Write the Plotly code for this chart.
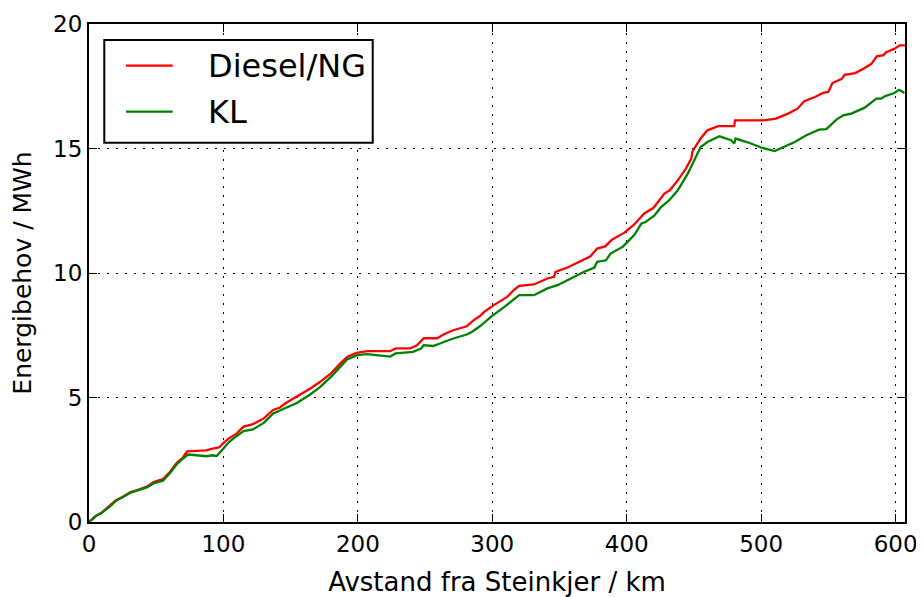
import plotly.graph_objects as go

# ---- data ----
series_names = ["Diesel/NG", "KL"]

diesel_x = [0, 5, 9, 15, 20, 25, 31, 37, 43, 48, 55, 60, 65, 70, 73, 80, 87, 92, 97, 100,
            104, 110, 115, 122, 130, 137, 142, 147, 155, 160, 165, 172, 180, 187, 192, 199,
            207, 224, 228, 239, 244, 249, 259, 264, 271, 281, 286, 291, 294, 300, 305, 311,
            316, 320, 331, 341, 346, 347, 356, 366, 373, 378, 384, 389, 398, 405, 413, 420,
            423, 428, 432, 438, 444, 448, 449, 455, 460, 468, 480, 480.5, 502, 511, 520, 527,
            532, 540, 546, 550, 553, 560, 562, 570, 576, 582, 586, 591, 593, 599, 603, 607]
diesel_y = [0, 0.24, 0.36, 0.62, 0.87, 1.0, 1.2, 1.3, 1.42, 1.6, 1.72, 2.0, 2.36, 2.6, 2.84,
            2.86, 2.88, 2.95, 3.0, 3.17, 3.36, 3.56, 3.83, 3.93, 4.16, 4.5, 4.6, 4.8, 5.06, 5.2,
            5.37, 5.63, 5.97, 6.37, 6.63, 6.79, 6.86, 6.86, 6.97, 6.97, 7.10, 7.38, 7.38, 7.54,
            7.70, 7.86, 8.1, 8.28, 8.44, 8.67, 8.85, 9.04, 9.31, 9.48, 9.54, 9.78, 9.85, 10.04,
            10.22, 10.49, 10.67, 10.98, 11.07, 11.34, 11.61, 11.92, 12.39, 12.62, 12.85, 13.19,
            13.32, 13.72, 14.19, 14.59, 14.9, 15.4, 15.73, 15.9, 15.9, 16.13, 16.13, 16.2, 16.4,
            16.6, 16.9, 17.07, 17.23, 17.27, 17.63, 17.8, 17.96, 18.03, 18.2, 18.4, 18.7, 18.75,
            18.87, 19.0, 19.14, 19.14]

kl_x = [0, 5, 9, 15, 20, 25, 31, 37, 43, 48, 55, 60, 65, 70, 73.5, 80, 87, 92, 95, 100, 104,
        107.5, 115, 122, 130, 137, 147, 155, 165, 172, 180, 187, 192, 199.5, 207, 224, 228,
        241, 247, 249, 256, 264, 271, 281, 285, 291, 299, 309, 320, 331, 341, 348.5, 358, 368,
        376, 378, 384.5, 388, 397, 405.6, 411, 414, 420.5, 425.5, 431.6, 438, 445.4, 450.4,
        455, 460, 469, 477.7, 480, 481, 490, 500, 510, 525, 533.6, 543, 548.5, 556, 561, 567,
        577, 585.7, 589.4, 591.6, 599, 602.6, 606.6]
kl_y = [0, 0.24, 0.35, 0.6, 0.85, 1.0, 1.18, 1.28, 1.39, 1.55, 1.66, 1.95, 2.30, 2.55, 2.71,
        2.68, 2.64, 2.68, 2.65, 2.95, 3.2, 3.36, 3.65, 3.72, 3.98, 4.36, 4.60, 4.79, 5.14, 5.43,
        5.83, 6.23, 6.53, 6.70, 6.74, 6.64, 6.77, 6.83, 6.97, 7.10, 7.07, 7.23, 7.37, 7.53, 7.64,
        7.87, 8.24, 8.64, 9.11, 9.11, 9.38, 9.51, 9.78, 10.04, 10.22, 10.45, 10.51, 10.78, 11.05,
        11.52, 11.99, 12.05, 12.3, 12.65, 12.92, 13.32, 13.99, 14.53, 15.06, 15.26, 15.49, 15.33,
        15.2, 15.4, 15.25, 15.04, 14.9, 15.26, 15.53, 15.76, 15.78, 16.16, 16.33, 16.4, 16.64,
        17.0, 17.0, 17.09, 17.23, 17.36, 17.23]

x_ticks = [0, 100, 200, 300, 400, 500, 600]
y_ticks = [0, 5, 10, 15, 20]
x_title = "Avstand fra Steinkjer / km"
y_title = "Energibehov / MWh"

colors = ["#ff0000", "#008000"]
FONT = "DejaVu Sans"

fig = go.Figure()
fig.add_trace(go.Scatter(x=diesel_x, y=diesel_y, mode="lines", name=series_names[0],
                         line=dict(color=colors[0], width=2.3), showlegend=False))
fig.add_trace(go.Scatter(x=kl_x, y=kl_y, mode="lines", name=series_names[1],
                         line=dict(color=colors[1], width=2.3), showlegend=False))

axis_common = dict(
    showline=True, linecolor="black", linewidth=2, mirror="ticks",
    ticks="inside", ticklen=8, tickwidth=1, tickcolor="black",
    showgrid=True, gridcolor="black", gridwidth=1, griddash="2px,7px",
    zeroline=False, tickfont=dict(family=FONT, size=23, color="black"),
)

fig.update_xaxes(range=[0, 607], tickvals=x_ticks, ticktext=[str(v) for v in x_ticks],
                 title=dict(text=x_title, font=dict(family=FONT, size=26, color="black"), standoff=21),
                 **axis_common)
fig.update_yaxes(range=[0, 20], tickvals=y_ticks, ticktext=[str(v) for v in y_ticks],
                 title=dict(text=y_title, font=dict(family=FONT, size=25, color="black"), standoff=16),
                 **axis_common)

# manual legend (matplotlib-style box)
fig.add_shape(type="rect", xref="paper", yref="paper", x0=0.01875, x1=0.3477, y0=0.7616, y1=0.9679,
              line=dict(color="black", width=2), fillcolor="white", layer="above")
leg_rows = [0.9163, 0.8239]
for name, col, yy in zip(series_names, colors, leg_rows):
    fig.add_shape(type="line", xref="paper", yref="paper", x0=0.0453, x1=0.1026, y0=yy, y1=yy,
                  line=dict(color=col, width=2.3), layer="above")
    fig.add_annotation(xref="paper", yref="paper", x=0.1471, y=yy, text=name, showarrow=False,
                       xanchor="left", yanchor="middle", xshift=-3,
                       font=dict(family=FONT, size=32, color="black"))

# page body has an 8px margin: size/margins chosen so the plot area lands at
# x 89..905, y 24..522 of the 924x597 window
fig.update_layout(
    width=916, height=589,
    margin=dict(l=81, r=19, t=16, b=75, autoexpand=False),
    paper_bgcolor="white", plot_bgcolor="white",
    font=dict(family=FONT, color="black"),
)

fig.write_html("out.html")
